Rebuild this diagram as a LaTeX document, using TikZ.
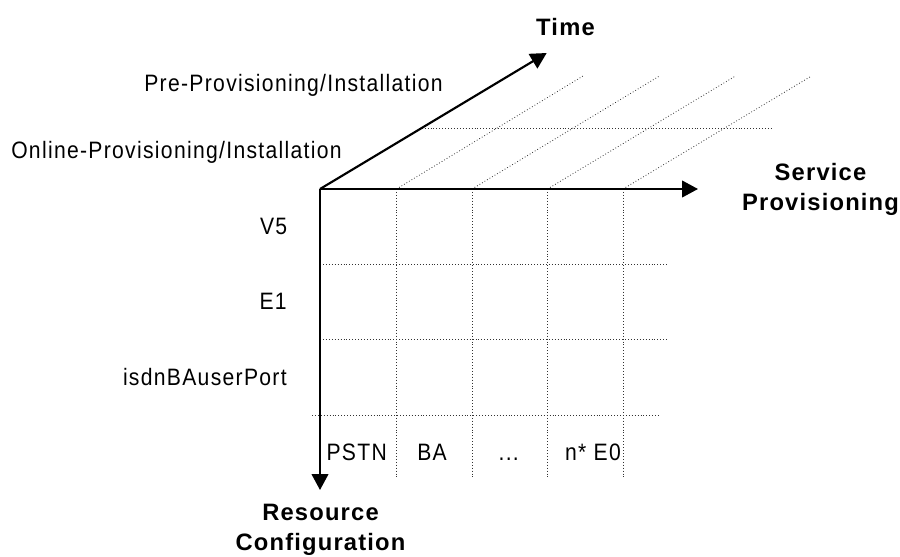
\documentclass[tikz,border=0pt]{standalone}
\usepackage{fontspec}
\setmainfont{Liberation Sans}
\newfontfamily\axisfont[LetterSpace=5.0]{Liberation Sans}
\newfontfamily\labfont[FakeStretch=0.89,LetterSpace=5.5]{Liberation Sans}
\usetikzlibrary{arrows.meta}
\begin{document}
\begin{tikzpicture}[x=0.75pt,y=-0.75pt,
  axisline/.style={line width=1.6pt,-{Triangle[length=12pt,width=12.5pt]}},
  gridline/.style={line width=0.6pt,black!80,dash pattern=on 0.6pt off 1.6pt},
  lab/.style={inner sep=0pt,font=\fontsize{17.8}{21}\labfont},
  axlab/.style={inner sep=0pt,align=center,font=\fontsize{17.8}{22.5}\axisfont\bfseries}]
\useasboundingbox (0,0) rectangle (900,557);
% coordinates
\coordinate (O) at (320,189);
\coordinate (T) at (546.7,53);
\coordinate (S) at (698,189);
\coordinate (R) at (320,490);
% diagonal grid (time plane)
\foreach \x/\e [count=\i] in {396.5/583,472/659.5,547.5/735.5,623/811.5}{
  \coordinate (d\i) at (\x,189);
  \coordinate (e\i) at (\e,76);
  \draw[gridline] (d\i) -- (e\i);
}
\coordinate (h1a) at (421.7,128.3);
\coordinate (h1b) at (773,128.3);
\draw[gridline] (h1a) -- (h1b);
% vertical grid lines
\foreach \x [count=\i] in {396.5,472,547.5,623}{
  \coordinate (v\i) at (\x,189);
  \coordinate (w\i) at (\x,477);
  \draw[gridline] (v\i) -- (w\i);
}
% horizontal grid lines
\foreach \y/\a/\b [count=\i] in {264.3/323/667,339.3/323/667,415/312/660}{
  \coordinate (ha\i) at (\a,\y);
  \coordinate (hb\i) at (\b,\y);
  \draw[gridline] (ha\i) -- (hb\i);
}
% axes
\draw[axisline] (O) -- (T);
\draw[axisline] (O) -- (S);
\draw[axisline] (O) -- (R);
% axis labels
\node[axlab,anchor=base] (time) at (565.5,35) {Time};
\node[axlab,anchor=base] (serv) at (820.5,210.5) {Service\\Provisioning};
\node[axlab,anchor=base] (res) at (320.5,550) {Resource\\Configuration};
% other labels
\node[lab,anchor=base east] (pre) at (443,91.7) {Pre-Provisioning/Installation};
\node[lab,anchor=base east] (onl) at (342,158.3) {Online-Provisioning/Installation};
\node[lab,anchor=base east] (v5) at (287.5,234) {V5};
\node[lab,anchor=base east] (e1) at (287,309.3) {E1};
\node[lab,anchor=base east] (isdn) at (287,385) {isdnBAuserPort};
\node[lab,anchor=base] (pstn) at (356.7,460) {PSTN};
\node[lab,anchor=base] (ba) at (432,460) {BA};
\node[lab,anchor=base] (dots) at (508.7,460) {...};
\node[lab,anchor=base] (ne0) at (593,460) {n* E0};
\end{tikzpicture}
\end{document}
